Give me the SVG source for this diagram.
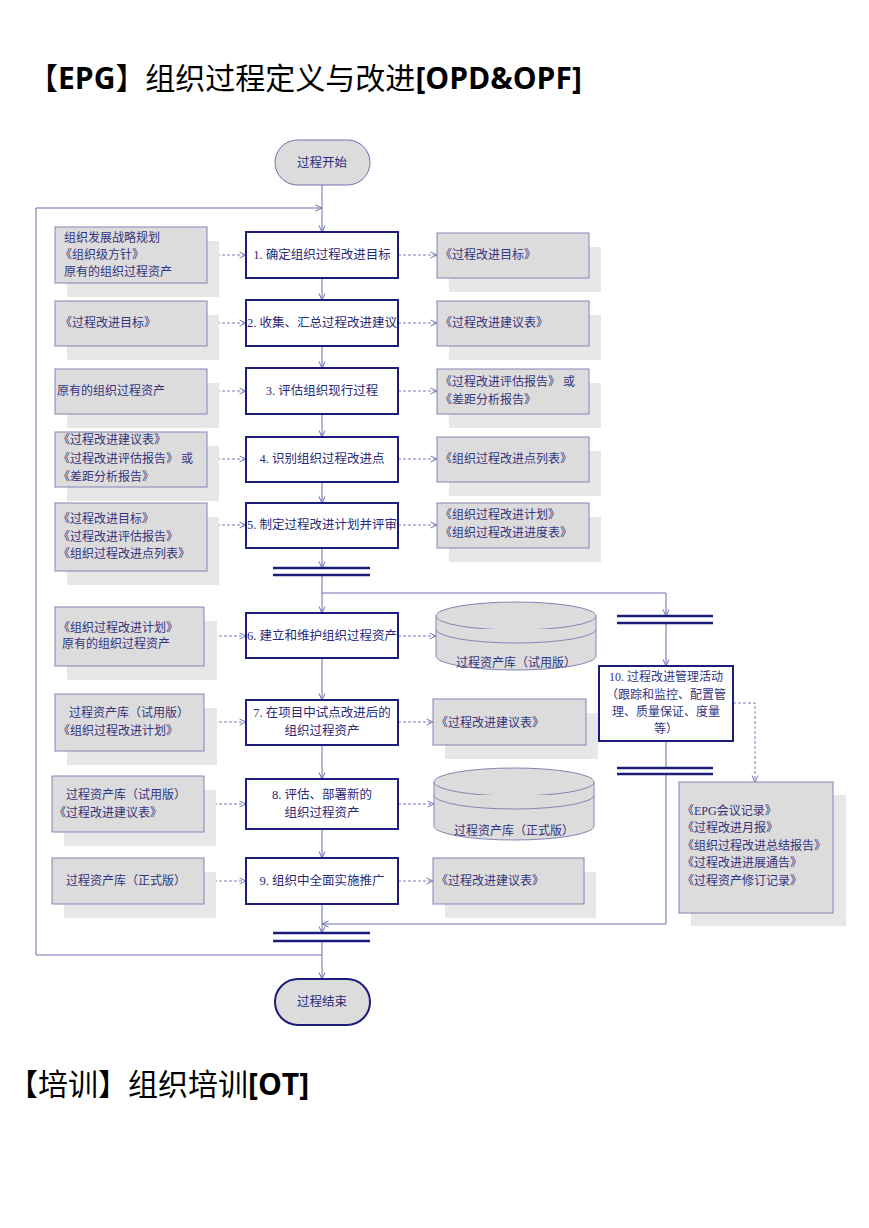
<svg xmlns="http://www.w3.org/2000/svg" width="869" height="1228" viewBox="0 0 869 1228">
<defs>
<style>
.t{font-family:"Liberation Serif","Noto Sans CJK SC",serif;font-size:12px;fill:#34347e}
.tp{font-family:"Liberation Serif","Noto Sans CJK SC",serif;font-size:12.5px;fill:#2a2a78}
.c{text-anchor:middle}
.doc{fill:#dcdcdc;stroke:#8484b8;stroke-width:1}
.sh{fill:#e7e7e7;stroke:none}
.proc{fill:#ffffff;stroke:#1c1c7a;stroke-width:2}
.ln{fill:none;stroke:#6c6cb0;stroke-width:1}
.dash{fill:none;stroke:#7a7ab8;stroke-width:1;stroke-dasharray:3,2}
.bar{stroke:#1c1c7a;stroke-width:2.5}
.cyl{fill:#dcdcdc;stroke:#8484b8;stroke-width:1}
.title{font-family:"Noto Sans CJK SC",sans-serif;font-size:30px;fill:#000}
.lat{font-family:"Open Sans","Liberation Sans",sans-serif;font-weight:bold}
</style>
<marker id="ar" viewBox="0 0 8 8" refX="7.5" refY="4" markerWidth="8" markerHeight="8" markerUnits="userSpaceOnUse" orient="auto">
<path d="M1,1 L7.5,4 L1,7" fill="none" stroke="#6c6cb0" stroke-width="1"/>
</marker>
<marker id="ad" viewBox="0 0 8 8" refX="7.5" refY="4" markerWidth="8" markerHeight="8" markerUnits="userSpaceOnUse" orient="auto">
<path d="M1,1 L7.5,4 L1,7" fill="none" stroke="#7a7ab8" stroke-width="1"/>
</marker>
</defs>
<rect width="869" height="1228" fill="#ffffff"/>

<g id="title1"><text class="title" x="28" y="89">【<tspan class="lat">EPG</tspan>】组织过程定义与改进<tspan class="lat">[OPD&amp;OPF]</tspan></text></g>
<g id="title2"><text class="title" x="8" y="1095">【培训】组织培训<tspan class="lat">[OT]</tspan></text></g>

<g id="connectors">
<line class="ln" x1="322" y1="185" x2="322" y2="232" marker-end="url(#ar)"/>
<polyline class="ln" points="322,955 36,955 36,208 322,208" marker-end="url(#ar)"/>
<line class="ln" x1="322" y1="278" x2="322" y2="300" marker-end="url(#ar)"/>
<line class="ln" x1="322" y1="346" x2="322" y2="368" marker-end="url(#ar)"/>
<line class="ln" x1="322" y1="414" x2="322" y2="437" marker-end="url(#ar)"/>
<line class="ln" x1="322" y1="482" x2="322" y2="503" marker-end="url(#ar)"/>
<line class="ln" x1="322" y1="548" x2="322" y2="568" marker-end="url(#ar)"/>
<line class="ln" x1="322" y1="575" x2="322" y2="613" marker-end="url(#ar)"/>
<polyline class="ln" points="322,593 666,593 666,616" marker-end="url(#ar)"/>
<line class="ln" x1="322" y1="658" x2="322" y2="700" marker-end="url(#ar)"/>
<line class="ln" x1="322" y1="745" x2="322" y2="779" marker-end="url(#ar)"/>
<line class="ln" x1="322" y1="829" x2="322" y2="858" marker-end="url(#ar)"/>
<line class="ln" x1="322" y1="904" x2="322" y2="933" marker-end="url(#ar)"/>
<line class="ln" x1="322" y1="941" x2="322" y2="979" marker-end="url(#ar)"/>
<line class="ln" x1="666" y1="623" x2="666" y2="666" marker-end="url(#ar)"/>
<line class="ln" x1="666" y1="741" x2="666" y2="768"/>
<polyline class="ln" points="666,774 666,924 322,924" marker-end="url(#ar)"/>
<line class="dash" x1="207" y1="255" x2="246" y2="255" marker-end="url(#ad)"/>
<line class="dash" x1="207" y1="323" x2="246" y2="323" marker-end="url(#ad)"/>
<line class="dash" x1="207" y1="391" x2="246" y2="391" marker-end="url(#ad)"/>
<line class="dash" x1="207" y1="459" x2="246" y2="459" marker-end="url(#ad)"/>
<line class="dash" x1="207" y1="525" x2="246" y2="525" marker-end="url(#ad)"/>
<line class="dash" x1="204" y1="636" x2="246" y2="636" marker-end="url(#ad)"/>
<line class="dash" x1="204" y1="722" x2="246" y2="722" marker-end="url(#ad)"/>
<line class="dash" x1="204" y1="804" x2="246" y2="804" marker-end="url(#ad)"/>
<line class="dash" x1="204" y1="881" x2="246" y2="881" marker-end="url(#ad)"/>
<line class="dash" x1="398" y1="255" x2="437" y2="255" marker-end="url(#ad)"/>
<line class="dash" x1="398" y1="323" x2="437" y2="323" marker-end="url(#ad)"/>
<line class="dash" x1="398" y1="391" x2="437" y2="391" marker-end="url(#ad)"/>
<line class="dash" x1="398" y1="459" x2="437" y2="459" marker-end="url(#ad)"/>
<line class="dash" x1="398" y1="525" x2="437" y2="525" marker-end="url(#ad)"/>
<line class="dash" x1="398" y1="636" x2="436" y2="636" marker-end="url(#ad)"/>
<line class="dash" x1="398" y1="722" x2="433" y2="722" marker-end="url(#ad)"/>
<line class="dash" x1="398" y1="804" x2="434" y2="804" marker-end="url(#ad)"/>
<line class="dash" x1="398" y1="881" x2="433" y2="881" marker-end="url(#ad)"/>
<polyline class="dash" points="733,703 755,703 755,782" marker-end="url(#ad)"/>
</g>

<g id="bars">
<line class="bar" x1="273" y1="568" x2="370" y2="568"/>
<line class="bar" x1="273" y1="575" x2="370" y2="575"/>
<line class="bar" x1="273" y1="933" x2="370" y2="933"/>
<line class="bar" x1="273" y1="941" x2="370" y2="941"/>
<line class="bar" x1="617" y1="616" x2="713" y2="616"/>
<line class="bar" x1="617" y1="623" x2="713" y2="623"/>
<line class="bar" x1="617" y1="768" x2="713" y2="768"/>
<line class="bar" x1="617" y1="774" x2="713" y2="774"/>
</g>

<g id="start">
<rect x="275" y="140" width="95" height="45" rx="22.5" fill="#dcdcdc" stroke="#7070b0" stroke-width="1"/>
<text class="tp c" x="322" y="167">过程开始</text>
</g>
<g id="end">
<rect x="275" y="979" width="95" height="46" rx="23" fill="#dcdcdc" stroke="#1c1c7a" stroke-width="2"/>
<text class="tp c" x="322" y="1006">过程结束</text>
</g>

<g id="p1"><rect class="proc" x="246" y="232" width="152" height="46"/><text class="tp c" x="322" y="259">1. 确定组织过程改进目标</text></g>
<g id="p2"><rect class="proc" x="246" y="300" width="152" height="46"/><text class="tp c" x="322" y="327">2. 收集、汇总过程改进建议</text></g>
<g id="p3"><rect class="proc" x="246" y="368" width="152" height="46"/><text class="tp c" x="322" y="395">3. 评估组织现行过程</text></g>
<g id="p4"><rect class="proc" x="246" y="437" width="152" height="45"/><text class="tp c" x="322" y="463">4. 识别组织过程改进点</text></g>
<g id="p5"><rect class="proc" x="246" y="503" width="152" height="45"/><text class="tp c" x="322" y="529">5. 制定过程改进计划并评审</text></g>
<g id="p6"><rect class="proc" x="246" y="613" width="152" height="45"/><text class="tp c" x="322" y="640">6. 建立和维护组织过程资产</text></g>
<g id="p7"><rect class="proc" x="246" y="700" width="152" height="45"/><text class="tp c" x="322" y="717">7. 在项目中试点改进后的</text><text class="tp c" x="322" y="735">组织过程资产</text></g>
<g id="p8"><rect class="proc" x="246" y="779" width="152" height="50"/><text class="tp c" x="322" y="799">8. 评估、部署新的</text><text class="tp c" x="322" y="817">组织过程资产</text></g>
<g id="p9"><rect class="proc" x="246" y="858" width="152" height="46"/><text class="tp c" x="322" y="885">9. 组织中全面实施推广</text></g>
<g id="p10"><rect class="proc" x="599" y="666" width="134" height="75"/>
<text class="t c" x="666" y="681">10. 过程改进管理活动</text>
<text class="t c" x="666" y="699">（跟踪和监控、配置管</text>
<text class="t c" x="666" y="716">理、质量保证、度量</text>
<text class="t c" x="666" y="733">等）</text></g>

<g id="in1"><rect class="sh" x="67" y="241" width="152" height="56"/><rect class="doc" x="55" y="227" width="152" height="56"/>
<text class="t" x="64" y="242">组织发展战略规划</text><text class="t" x="60" y="259">《组织级方针》</text><text class="t" x="64" y="276">原有的组织过程资产</text></g>
<g id="in2"><rect class="sh" x="67" y="315" width="152" height="45"/><rect class="doc" x="55" y="301" width="152" height="45"/>
<text class="t" x="60" y="327">《过程改进目标》</text></g>
<g id="in3"><rect class="sh" x="67" y="383" width="152" height="45"/><rect class="doc" x="55" y="369" width="152" height="45"/>
<text class="t" x="57" y="395">原有的组织过程资产</text></g>
<g id="in4"><rect class="sh" x="67" y="446" width="152" height="55"/><rect class="doc" x="55" y="432" width="152" height="55"/>
<text class="t" x="58" y="444">《过程改进建议表》</text><text class="t" x="58" y="463">《过程改进评估报告》 或</text><text class="t" x="58" y="481">《差距分析报告》</text></g>
<g id="in5"><rect class="sh" x="67" y="517" width="152" height="68"/><rect class="doc" x="55" y="503" width="152" height="68"/>
<text class="t" x="58" y="523">《过程改进目标》</text><text class="t" x="58" y="541">《过程改进评估报告》</text><text class="t" x="58" y="558">《组织过程改进点列表》</text></g>
<g id="in6"><rect class="sh" x="67" y="621" width="150" height="59"/><rect class="doc" x="55" y="607" width="149" height="59"/>
<text class="t" x="58" y="632">《组织过程改进计划》</text><text class="t" x="62" y="648">原有的组织过程资产</text></g>
<g id="in7"><rect class="sh" x="67" y="708" width="150" height="57"/><rect class="doc" x="55" y="694" width="149" height="57"/>
<text class="t" x="69" y="717">过程资产库（试用版）</text><text class="t" x="58" y="735">《组织过程改进计划》</text></g>
<g id="in8"><rect class="sh" x="64" y="790" width="152" height="56"/><rect class="doc" x="52" y="776" width="152" height="56"/>
<text class="t" x="66" y="799">过程资产库（试用版）</text><text class="t" x="54" y="817">《过程改进建议表》</text></g>
<g id="in9"><rect class="sh" x="64" y="872" width="152" height="46"/><rect class="doc" x="52" y="858" width="152" height="46"/>
<text class="t" x="66" y="885">过程资产库（正式版）</text></g>

<g id="out1"><rect class="sh" x="449" y="247" width="152" height="45"/><rect class="doc" x="437" y="233" width="152" height="45"/>
<text class="t" x="440" y="259">《过程改进目标》</text></g>
<g id="out2"><rect class="sh" x="449" y="315" width="152" height="45"/><rect class="doc" x="437" y="301" width="152" height="45"/>
<text class="t" x="440" y="327">《过程改进建议表》</text></g>
<g id="out3"><rect class="sh" x="449" y="383" width="152" height="45"/><rect class="doc" x="437" y="369" width="152" height="45"/>
<text class="t" x="440" y="386">《过程改进评估报告》 或</text><text class="t" x="440" y="404">《差距分析报告》</text></g>
<g id="out4"><rect class="sh" x="449" y="451" width="152" height="45"/><rect class="doc" x="437" y="437" width="152" height="45"/>
<text class="t" x="440" y="463">《组织过程改进点列表》</text></g>
<g id="out5"><rect class="sh" x="449" y="517" width="152" height="45"/><rect class="doc" x="437" y="503" width="152" height="45"/>
<text class="t" x="440" y="519">《组织过程改进计划》</text><text class="t" x="440" y="537">《组织过程改进进度表》</text></g>
<g id="repo1">
<path class="cyl" d="M436,616 V656 A80,14 0 0 0 596,656 V616 Z"/>
<ellipse class="cyl" cx="516" cy="616" rx="80" ry="14"/>
<path class="cyl" d="M436,629 A80,14 0 0 0 596,629" fill="none"/>
<text class="t c" x="516" y="667">过程资产库（试用版）</text></g>
<g id="out7"><rect class="sh" x="445" y="713" width="153" height="46"/><rect class="doc" x="433" y="699" width="153" height="46"/>
<text class="t" x="436" y="727">《过程改进建议表》</text></g>
<g id="repo2">
<path class="cyl" d="M434,782 V826 A80,14 0 0 0 594,826 V782 Z"/>
<ellipse class="cyl" cx="514" cy="782" rx="80" ry="14"/>
<path class="cyl" d="M434,795 A80,14 0 0 0 594,795" fill="none"/>
<text class="t c" x="514" y="835">过程资产库（正式版）</text></g>
<g id="out9"><rect class="sh" x="445" y="872" width="151" height="46"/><rect class="doc" x="433" y="858" width="151" height="46"/>
<text class="t" x="436" y="885">《过程改进建议表》</text></g>
<g id="records"><rect class="sh" x="691" y="795" width="155" height="131"/><rect class="doc" x="679" y="782" width="154" height="131"/>
<text class="t" x="682" y="815">《EPG会议记录》</text>
<text class="t" x="682" y="832">《过程改进月报》</text>
<text class="t" x="682" y="850">《组织过程改进总结报告》</text>
<text class="t" x="682" y="867">《过程改进进展通告》</text>
<text class="t" x="682" y="885">《过程资产修订记录》</text></g>
</svg>
